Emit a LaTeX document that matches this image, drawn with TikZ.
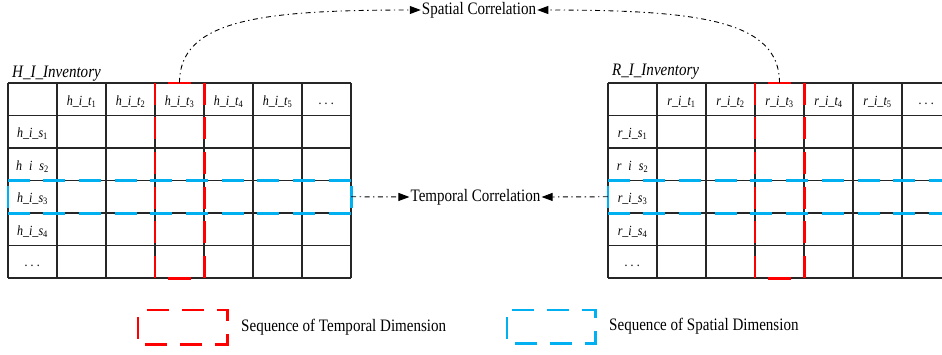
\documentclass[tikz,border=0pt]{standalone}
\usepackage{fontspec}
\setmainfont{Liberation Serif}[FakeStretch=0.86]
\usetikzlibrary{arrows.meta}
\definecolor{skyblue}{RGB}{0,176,240}
\definecolor{hired}{RGB}{255,0,0}
\begin{document}
\begin{tikzpicture}[x=1pt,y=-1pt,
  gridline/.style={line width=1.2pt, draw=black!85},
  reddash/.style={line width=2.6pt, draw=hired},
  bluedash/.style={line width=2.6pt, draw=skyblue},
  conn/.style={line width=0.9pt, draw=black, dash pattern=on 5pt off 3.5pt on 1.3pt off 3.5pt, -{Triangle[length=11pt,width=8pt]}},
  lbl/.style={font=\fontsize{17.5}{20}\selectfont, inner sep=1pt},
  invlbl/.style={font=\fontsize{17.5}{20}\selectfont\itshape, inner sep=0pt, anchor=base west},
  cell/.style={font=\fontsize{14}{16}\selectfont\itshape, inner sep=0pt, anchor=base},
  region/.style={inner sep=0pt, minimum width=#1},
]
\useasboundingbox (0,0) rectangle (942,354);
\clip (0,0) rectangle (942,354);

% ---------- tables grid ----------
\foreach \ox in {8,608}{
  \foreach \i in {0,...,7} \draw[gridline] (\ox+49*\i, 83) -- (\ox+49*\i, 278);
  \foreach \j in {0,...,6} \draw[gridline] (\ox, 83+32.5*\j) -- (\ox+343, 83+32.5*\j);
}

% ---------- table labels ----------
\node[invlbl] (hinv) at (12,77) {H\_I\_Inventory};
\node[invlbl] (rinv) at (612,75) {R\_I\_Inventory};

% ---------- left table texts ----------
\foreach \k in {1,...,5}
  \node[cell] (ht\k) at (8+49*\k+24.5, 105) {h\_i\_t\textsubscript{\upshape\k}};
\node[cell] (htd) at (326.5,104) {.\ .\ .};
\foreach \k in {1,3,4}
  \node[cell] (hs\k) at (32.5, 105.25+32.5*\k) {h\_i\_s\textsubscript{\upshape\k}};
\node[cell] (hs2) at (32.5, 170.25) {h\hspace{0.5em}i\hspace{0.5em}s\textsubscript{\upshape 2}};
\node[cell] (hsd) at (32.5, 266) {.\ .\ .};

% ---------- right table texts ----------
\foreach \k in {1,...,5}
  \node[cell] (rt\k) at (608+49*\k+24.5, 105) {r\_i\_t\textsubscript{\upshape\k}};
\node[cell] (rtd) at (926.5,104) {.\ .\ .};
\foreach \k in {1,3,4}
  \node[cell] (rs\k) at (632.5, 105.25+32.5*\k) {r\_i\_s\textsubscript{\upshape\k}};
\node[cell] (rs2) at (632.5, 170.25) {r\hspace{0.5em}i\hspace{0.5em}s\textsubscript{\upshape 2}};
\node[cell] (rsd) at (632.5, 266) {.\ .\ .};

% ---------- highlighted regions ----------
\node[region=49pt, minimum height=195pt] (hT) at (179.5,180.5) {};
\node[region=49pt, minimum height=195pt] (rT) at (779.5,180.5) {};
\node[region=343pt, minimum height=32.5pt] (hS) at (179.5,196.75) {};
\node[region=343pt, minimum height=32.5pt] (rS) at (779.5,196.75) {};

\foreach \r in {hT,rT}{
  \draw[reddash, dash pattern=on 22pt off 12.6pt] (\r.north west) -- (\r.south west);
  \draw[reddash, dash pattern=on 22pt off 12.6pt] (\r.north east) -- (\r.south east);
  \draw[reddash, shorten <=13.5pt, shorten >=13.5pt] (\r.north west) -- (\r.north east);
  \draw[reddash, shorten <=13.5pt, shorten >=13.5pt] (\r.south west) -- (\r.south east);
}
\foreach \r in {hS,rS}{
  \draw[bluedash, dash pattern=on 22pt off 13.67pt] (\r.north west) -- (\r.north east);
  \draw[bluedash, dash pattern=on 22pt off 13.67pt] (\r.south west) -- (\r.south east);
  \draw[bluedash, shorten <=5.25pt, shorten >=5.25pt] (\r.north west) -- (\r.south west);
  \draw[bluedash, shorten <=5.25pt, shorten >=5.25pt] (\r.north east) -- (\r.south east);
}

% ---------- correlation labels and connectors ----------
\node[lbl] (sp) at (479,10) {Spatial Correlation};
\node[lbl] (tc) at (475.5,197) {Temporal Correlation};
\draw[conn] (hT.north) .. controls +(0,-63) and +(-160,0) .. (sp.west);
\draw[conn] (rT.north) .. controls +(0,-63) and +(160,0) .. (sp.east);
\draw[conn] (hS.east) -- (tc.west);
\draw[conn] (rS.west) -- (tc.east);

% ---------- legend ----------
\node[region=89pt, minimum height=34pt] (lT) at (182.5,327) {};
\node[region=88pt, minimum height=33pt] (lS) at (551,326.5) {};
\draw[reddash, dash pattern=on 22pt off 13pt, dash phase=26.3pt]
  (lT.north west) -- (lT.north east) -- (lT.south east) -- (lT.south west) -- cycle;
\draw[bluedash, dash pattern=on 22pt off 13pt, dash phase=30.3pt]
  (lS.north west) -- (lS.north east) -- (lS.south east) -- (lS.south west) -- cycle;
\node[lbl, anchor=west] (lTt) at (240,327.5) {Sequence of Temporal Dimension};
\node[lbl, anchor=west] (lSt) at (608,326.5) {Sequence of Spatial Dimension};
\end{tikzpicture}
\end{document}
